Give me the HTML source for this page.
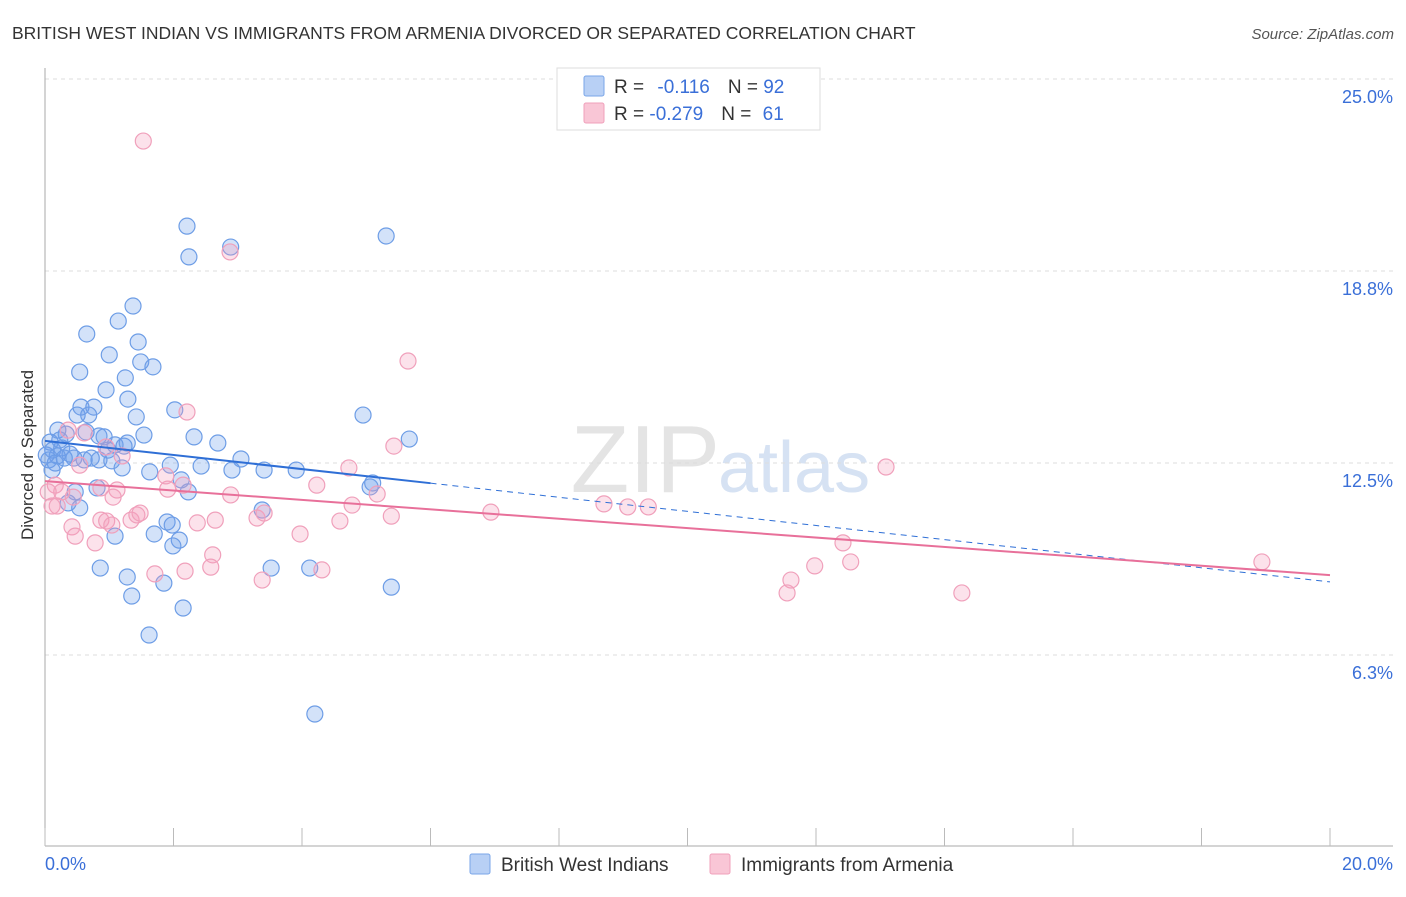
<!DOCTYPE html>
<html><head><meta charset="utf-8"><style>
body{margin:0;background:#fff;font-family:"Liberation Sans",sans-serif}
svg text{font-family:"Liberation Sans",sans-serif}
</style></head><body>
<svg id="c" width="1406" height="892">
<text x="12" y="39" font-size="17.5" fill="#333">BRITISH WEST INDIAN VS IMMIGRANTS FROM ARMENIA DIVORCED OR SEPARATED CORRELATION CHART</text>
<text x="1394" y="39" font-size="15" fill="#555" font-style="italic" text-anchor="end">Source: ZipAtlas.com</text>
<text x="720" y="492" font-size="96" fill="#e4e4e4" text-anchor="end" font-family="Liberation Serif">ZIP</text>
<text x="718" y="492" font-size="72" fill="#d6e2f3">atlas</text>
<text transform="translate(33,455) rotate(-90)" font-size="17" fill="#333" text-anchor="middle">Divorced or Separated</text>
<g id="grid"></g><g id="ax"></g><g id="pts"></g><g id="tr"></g>
<g>
<rect x="557" y="68" width="263" height="62" fill="#fff" stroke="#ddd"/>
<rect x="584" y="76" width="20" height="20" fill="#b8d0f5" stroke="#7aa6e8" rx="2"/>
<rect x="584" y="103" width="20" height="20" fill="#f9c6d6" stroke="#f0a0bb" rx="2"/>
<text x="614" y="93" font-size="19" fill="#333">R = <tspan fill="#3a6fd8" dx="8">-0.116</tspan><tspan dx="18" fill="#333">N = </tspan><tspan fill="#3a6fd8">92</tspan></text>
<text x="614" y="120" font-size="19" fill="#333">R = <tspan fill="#3a6fd8">-0.279</tspan><tspan dx="18" fill="#333">N = </tspan><tspan fill="#3a6fd8" dx="6">61</tspan></text>
</g>
<g>
<rect x="470" y="854" width="20" height="20" fill="#b8d0f5" stroke="#7aa6e8" rx="2"/>
<text x="501" y="871" font-size="19" fill="#333">British West Indians</text>
<rect x="710" y="854" width="20" height="20" fill="#f9c6d6" stroke="#f0a0bb" rx="2"/>
<text x="741" y="871" font-size="19" fill="#333">Immigrants from Armenia</text>
</g>
</svg>
<script>
const yTicks=[6.25,12.5,18.75,25];
const yTickLabels=["6.3%","12.5%","18.8%","25.0%"];
const xTicks=[0,2,4,6,8,10,12,14,16,18,20];
const blueX=[2.21,2.24,2.89,5.31,1.37,1.14,0.65,1.45,1.00,1.49,1.68,0.54,1.25,0.95,1.29,0.56,0.76,0.50,1.42,0.68,2.02,4.95,0.20,0.33,0.64,0.84,0.92,1.54,2.32,2.69,1.28,1.09,5.67,0.08,0.12,0.26,0.39,0.72,0.45,1.04,0.19,0.06,0.16,3.05,2.43,1.20,1.63,2.91,3.41,3.91,5.06,5.10,2.12,2.23,0.81,0.47,0.54,0.36,3.38,1.90,1.98,1.70,1.09,2.09,1.99,0.86,1.28,3.52,4.12,1.85,1.35,2.15,5.39,1.62,4.20,0.11,0.02,0.23,0.30,0.61,0.84,0.98,1.23,1.95];
const blueY=[20.21,19.21,19.53,19.89,17.61,17.12,16.70,16.44,16.02,15.79,15.63,15.46,15.27,14.88,14.58,14.32,14.32,14.06,14.00,14.06,14.23,14.06,13.57,13.44,13.51,13.38,13.35,13.41,13.35,13.15,13.15,13.09,13.28,13.18,12.92,12.99,12.79,12.66,12.66,12.57,12.73,12.60,12.50,12.63,12.40,12.34,12.21,12.27,12.27,12.27,11.72,11.85,11.95,11.56,11.69,11.56,11.04,11.20,10.97,10.58,10.48,10.19,10.12,9.99,9.80,9.08,8.79,9.08,9.08,8.59,8.17,7.78,8.46,6.90,4.33,12.27,12.76,13.25,12.66,12.60,12.60,12.92,13.05,12.43];
const pinkX=[1.53,2.88,5.65,2.21,0.36,0.61,0.95,1.20,0.54,0.87,0.16,0.26,0.11,1.12,0.19,0.05,1.06,0.44,0.42,0.47,0.78,0.87,0.96,1.04,1.34,1.43,1.48,1.91,1.88,2.15,2.37,2.65,2.89,3.30,3.41,2.61,2.58,2.18,1.71,3.38,3.97,4.23,4.31,4.59,4.73,4.78,5.17,5.39,5.43,6.94,8.70,9.07,9.39,11.55,11.61,11.98,12.42,12.54,13.09,14.27,18.94];
const pinkY=[22.98,19.37,15.82,14.16,13.57,13.48,13.02,12.73,12.43,11.69,11.78,11.56,11.10,11.62,11.10,11.56,11.39,11.39,10.42,10.12,9.90,10.64,10.61,10.48,10.64,10.81,10.87,11.65,12.08,11.78,10.55,10.64,11.46,10.71,10.87,9.51,9.11,8.98,8.89,8.69,10.19,11.78,9.02,10.61,12.34,11.13,11.49,10.77,13.05,10.90,11.17,11.07,11.07,8.27,8.69,9.15,9.90,9.28,12.37,8.27,9.28];
const blueTrend=[13.22,8.63];
const pinkTrend=[11.91,8.85];
const blueSolidEnd=6;
const NS="http://www.w3.org/2000/svg";
const sx=v=>45+v*64.25, sy=v=>847-v*30.72;
function mk(tag,at,parent){const e=document.createElementNS(NS,tag);for(const k in at)e.setAttribute(k,at[k]);document.getElementById(parent).appendChild(e);return e;}
yTicks.forEach((t,i)=>{
 const l=mk('line',{x1:45,x2:1393,y1:sy(t),y2:sy(t),stroke:'#ddd','stroke-dasharray':'4,4'},'grid');
 
 
 const tx=mk('text',{x:1393,y:sy(t)+24,'font-size':18,fill:'#3a6fd8','text-anchor':'end'},'ax');tx.textContent=yTickLabels[i];
 
 
});
const g0=mk('line',{x1:45,x2:1393,y1:sy(25)+0,y2:sy(25),stroke:'#ddd','stroke-dasharray':'4,4'},'grid');
const ya=mk('line',{x1:45,x2:45,y1:68,y2:846,stroke:'#aaa'},'ax');


const xa=mk('line',{x1:45,x2:1393,y1:846,y2:846,stroke:'#aaa'},'ax');


xTicks.forEach(t=>{const l=mk('line',{x1:sx(t),x2:sx(t),y1:828,y2:846,stroke:'#bbb'},'ax');
 
 });
const xl0=mk('text',{x:45,y:870,'font-size':18,fill:'#3a6fd8'},'ax');xl0.textContent='0.0%';


const xl1=mk('text',{x:1393,y:870,'font-size':18,fill:'#3a6fd8','text-anchor':'end'},'ax');xl1.textContent='20.0%';


blueX.forEach((x,i)=>{const c=mk('circle',{cx:sx(x),cy:sy(blueY[i]),r:8,fill:'rgba(110,160,235,0.3)',stroke:'#6d9de6','stroke-width':1.2},'pts');
 
 });
pinkX.forEach((x,i)=>{const c=mk('circle',{cx:sx(x),cy:sy(pinkY[i]),r:8,fill:'rgba(245,160,190,0.3)',stroke:'#f0a0bb','stroke-width':1.2},'pts');
 
 });
const by=x=>blueTrend[0]+(blueTrend[1]-blueTrend[0])*x/20;
const b1=mk('line',{x1:sx(0),y1:sy(by(0)),x2:sx(blueSolidEnd),y2:sy(by(blueSolidEnd)),stroke:'#2f6fd6','stroke-width':2},'tr');


const b2=mk('line',{x1:sx(blueSolidEnd),y1:sy(by(blueSolidEnd)),x2:sx(20),y2:sy(by(20)),stroke:'#2f6fd6','stroke-width':1,'stroke-dasharray':'6,5'},'tr');


const p1=mk('line',{x1:sx(0),y1:sy(pinkTrend[0]),x2:sx(20),y2:sy(pinkTrend[1]),stroke:'#e8709a','stroke-width':2},'tr');


</script>
</body></html>
